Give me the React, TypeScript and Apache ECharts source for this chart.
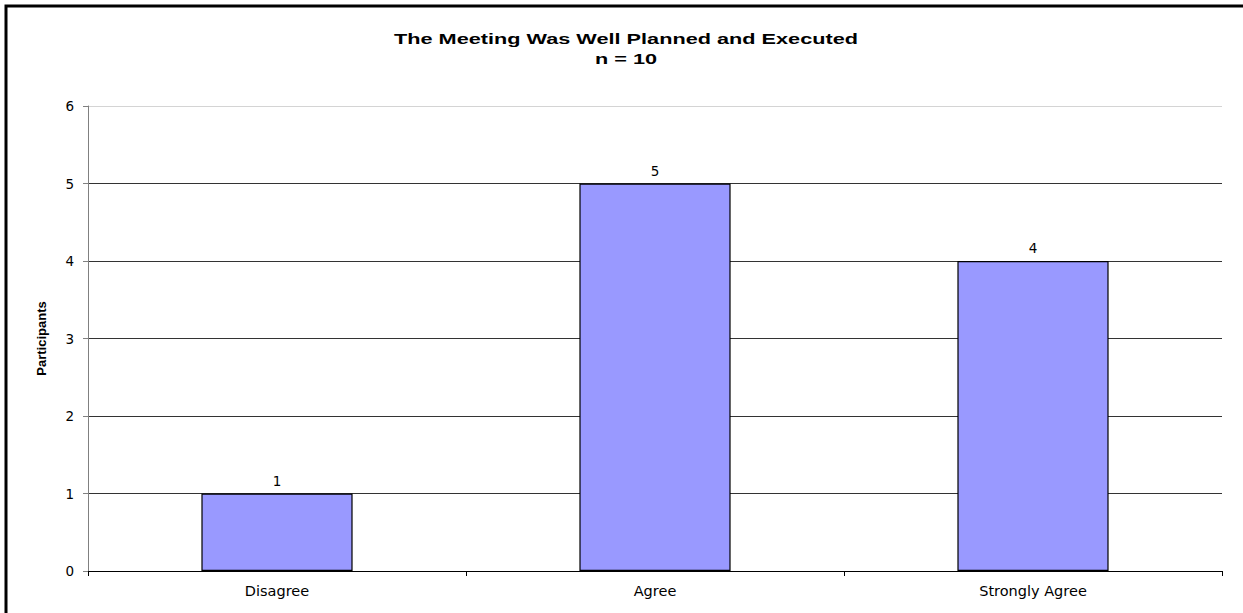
import React, { useEffect, useRef } from "react";
import * as echarts from "echarts";

const categories = ["Disagree", "Agree", "Strongly Agree"];
const participants = [1, 5, 4];
const titleLines = ["The Meeting Was Well Planned and Executed", "n = 10"];
const yAxisName = "Participants";

const FONT = "DejaVu Sans, Verdana, sans-serif";

export default function App() {
  const ref = useRef<HTMLDivElement>(null);
  useEffect(() => {
    document.body.style.margin = "0";
    const chart = echarts.init(ref.current!, null, { renderer: "svg" });
    chart.setOption({
      animation: false,
      backgroundColor: "#fff",
      graphic: [
        {
          type: "rect",
          shape: { x: 6, y: 6, width: 1400, height: 800 },
          style: { fill: "none", stroke: "#000", lineWidth: 3 },
          silent: true,
        },
        {
          type: "text",
          x: 626,
          y: 39,
          scaleX: 1.55,
          style: {
            text: titleLines[0],
            x: 0,
            y: 0,
            align: "center",
            verticalAlign: "middle",
            fontFamily: "Liberation Sans, Arial, sans-serif",
            fontWeight: "bold",
            fontSize: 14,
            fill: "#000",
          },
        },
        {
          type: "text",
          x: 626,
          y: 59,
          scaleX: 1.55,
          style: {
            text: titleLines[1],
            x: 0,
            y: 0,
            align: "center",
            verticalAlign: "middle",
            fontFamily: "Liberation Sans, Arial, sans-serif",
            fontWeight: "bold",
            fontSize: 14,
            fill: "#000",
          },
        },
      ],
      grid: { left: 88, right: 21, top: 106, bottom: 42 },
      xAxis: {
        type: "category",
        data: categories,
        axisLine: { lineStyle: { color: "#000", width: 1 } },
        axisTick: { show: true, length: 5, lineStyle: { color: "#000" } },
        axisLabel: {
          color: "#000",
          fontFamily: FONT,
          fontSize: 14.5,
          margin: 12,
        },
      },
      yAxis: {
        type: "value",
        min: 0,
        max: 6,
        interval: 1,
        name: yAxisName,
        nameLocation: "middle",
        nameGap: 40,
        nameTextStyle: {
          fontFamily: "Liberation Sans, Arial, sans-serif",
          fontWeight: "bold",
          fontSize: 13,
          color: "#000",
        },
        axisLine: { show: true, lineStyle: { color: "#808080", width: 1 } },
        axisTick: { show: true, length: 5, lineStyle: { color: "#808080" } },
        axisLabel: {
          color: "#000",
          fontFamily: FONT,
          fontSize: 13.5,
          margin: 14,
        },
        splitLine: {
          show: true,
          lineStyle: {
            color: ["#000", "#333", "#333", "#333", "#333", "#333", "#d4d4d4"],
            width: 1,
          },
        },
      },
      series: [
        {
          type: "bar",
          data: participants,
          barWidth: "40%",
          itemStyle: { color: "#9999FF", borderColor: "#000", borderWidth: 1.2 },
          label: {
            show: true,
            position: "top",
            distance: 6,
            color: "#000",
            fontFamily: FONT,
            fontSize: 13.5,
          },
        },
      ],
    });
    return () => chart.dispose();
  }, []);
  return <div ref={ref} style={{ width: 1243, height: 613 }} />;
}
